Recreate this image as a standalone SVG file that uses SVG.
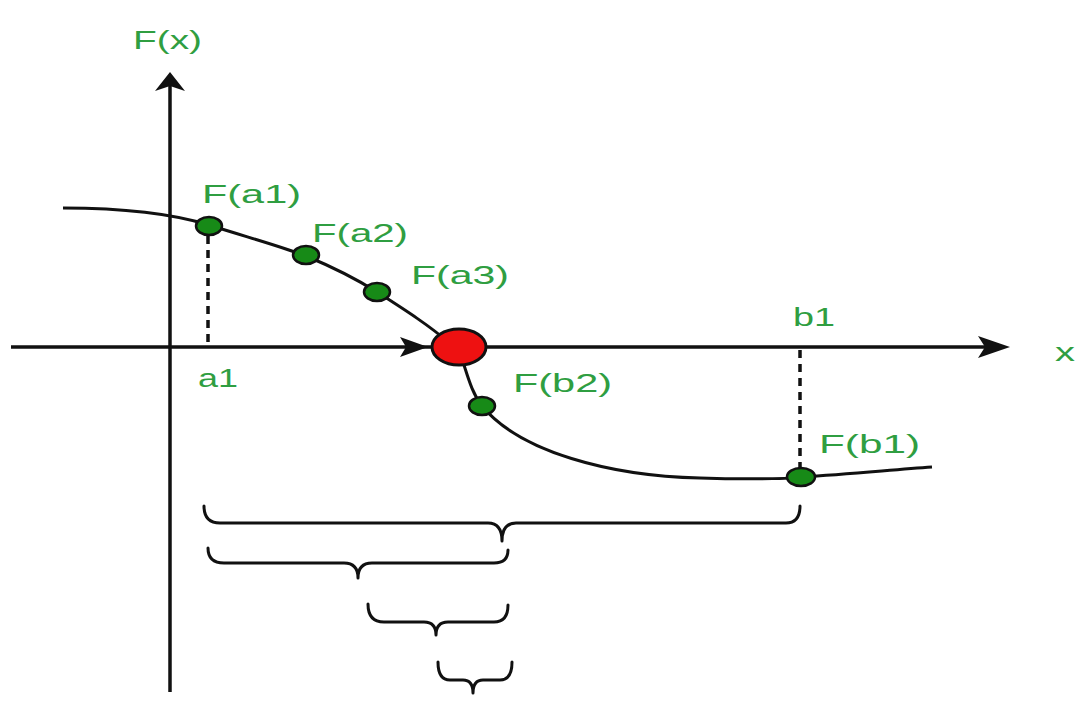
<svg xmlns="http://www.w3.org/2000/svg" width="1089" height="703" viewBox="0 0 1089 703">
<style>
.lbl{font-family:"Liberation Sans",Arial,sans-serif;font-size:26px;fill:#2f9e41}
.ax{stroke:#111;stroke-width:3.5;fill:none}
.crv{stroke:#111;stroke-width:3;fill:none}
.dash{stroke:#111;stroke-width:3.5;stroke-dasharray:8,6;fill:none}
.brace{stroke:#111;stroke-width:3;fill:none;stroke-linecap:round;stroke-linejoin:round}
.dot{fill:#178a17;stroke:#111;stroke-width:2.5}
.root{fill:#ee1111;stroke:#111;stroke-width:3}
.ah{fill:#111}
</style>
<rect width="1089" height="703" fill="#fff"/>
<g id="connectors">
  <line class="ax" x1="170" y1="84" x2="170" y2="692"/>
  <path class="ah" d="M170,72 L185,91 L170,86 L155,91 Z"/>
  <line class="ax" x1="11" y1="347" x2="1000" y2="347"/>
  <path class="ah" d="M1010,347 L978,336 L985,347 L978,358 Z"/>
  <path class="ah" d="M428,347 L400,337 L406,347 L400,357 Z"/>
  <line class="dash" x1="208" y1="236" x2="208" y2="345"/>
  <line class="dash" x1="800" y1="350" x2="800" y2="468"/>
  <path class="crv" d="M63,208 C120,208 170,213 209,225 C250,238 280,246 306,256 C335,268 358,280 377,292 C405,310 430,326 448,342"/>
  <path class="crv" d="M463,362 C468,377 472,393 482,406 C520,452 610,476 700,478 C760,480 800,478 801,477 C850,474 890,470 932,467"/>
  <path class="brace" d="M204,506 Q204,523 220,523 H488 Q502,523 502,541 Q502,523 516,523 H786 Q800,523 800,506"/>
  <path class="brace" d="M208,548 Q208,563 224,563 H344 Q358,563 358,578 Q358,563 372,563 H494 Q508,563 508,550"/>
  <path class="brace" d="M368,604 Q368,622 384,622 H424 Q436,622 436,635 Q436,622 448,622 H494 Q508,622 508,605"/>
  <path class="brace" d="M438,662 Q438,680 450,680 H463 Q473,680 473,693 Q473,680 483,680 H500 Q512,680 512,662"/>
</g>
<g id="root"><ellipse class="root" cx="459" cy="347" rx="27" ry="18"/></g>
<g id="fa1"><ellipse class="dot" cx="209" cy="226" rx="13" ry="9"/><text class="lbl" x="202" y="203" textLength="99" lengthAdjust="spacingAndGlyphs">F(a1)</text></g>
<g id="fa2"><ellipse class="dot" cx="306" cy="255" rx="13" ry="9"/><text class="lbl" x="312" y="242" textLength="96" lengthAdjust="spacingAndGlyphs">F(a2)</text></g>
<g id="fa3"><ellipse class="dot" cx="377" cy="292" rx="13" ry="9"/><text class="lbl" x="411" y="284" textLength="98" lengthAdjust="spacingAndGlyphs">F(a3)</text></g>
<g id="fb2"><ellipse class="dot" cx="482" cy="406" rx="13" ry="9"/><text class="lbl" x="513" y="392" textLength="99" lengthAdjust="spacingAndGlyphs">F(b2)</text></g>
<g id="fb1"><ellipse class="dot" cx="801" cy="477" rx="14" ry="9"/><text class="lbl" x="819" y="453" textLength="101" lengthAdjust="spacingAndGlyphs">F(b1)</text></g>
<g id="labels">
  <text class="lbl" x="133" y="49" textLength="69" lengthAdjust="spacingAndGlyphs">F(x)</text>
  <text class="lbl" x="793" y="326" textLength="42" lengthAdjust="spacingAndGlyphs">b1</text>
  <text class="lbl" x="1055" y="361" textLength="20" lengthAdjust="spacingAndGlyphs">x</text>
  <text class="lbl" x="198" y="387" textLength="40" lengthAdjust="spacingAndGlyphs">a1</text>
</g>
</svg>
